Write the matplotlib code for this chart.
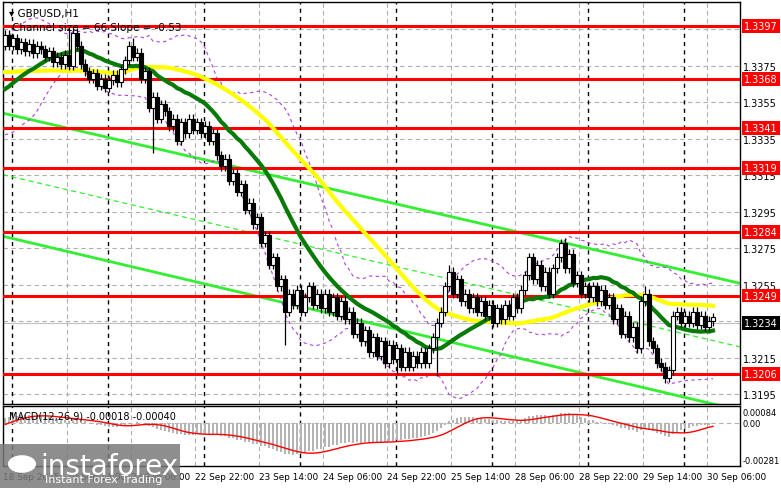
"""GBPUSD H1 chart with channel, moving averages, levels and MACD."""
import matplotlib
matplotlib.use("Agg")
import matplotlib.pyplot as plt
from matplotlib.patches import Rectangle
import numpy as np
import pandas as pd

BASE = 1.3200
PIP = 0.0001

# closes before the visible window (pips above 1.3200), only to warm up the indicators
history = [185, 183, 182, 180, 178, 180, 182, 184, 183, 181, 179, 177, 178, 180, 182,
           183, 184, 182, 180, 178, 176, 175, 174, 176, 178, 177, 175, 173, 170,
           160, 155, 150, 148, 150, 152, 155, 158, 156, 154, 152, 155, 158, 160, 163,
           166, 170, 172, 175, 180, 186]

# visible hourly closes (pips above 1.3200)
closes = [192, 186, 190, 184, 188, 183, 187, 182, 186, 184,
          180, 183, 177, 180, 176, 181, 175, 193, 186, 176,
          172, 168, 171, 164, 168, 163, 167, 170, 166, 173,
          178, 186, 180, 182, 168, 172, 152, 158, 146, 154,
          150, 142, 146, 134, 144, 138, 146, 140, 144, 138,
          142, 134, 138, 126, 120, 124, 112, 116, 106, 110,
          96, 100, 88, 92, 78, 82, 66, 70, 54, 58,
          40, 50, 44, 52, 40, 48, 54, 44, 50, 42,
          50, 40, 48, 38, 46, 36, 40, 28, 34, 24,
          30, 18, 26, 16, 24, 12, 22, 14, 20, 10,
          18, 10, 16, 12, 18, 12, 20, 26, 34, 40,
          54, 62, 50, 58, 46, 50, 42, 48, 40, 46,
          38, 44, 34, 42, 36, 44, 38, 48, 42, 52,
          60, 70, 58, 66, 54, 62, 50, 64, 70, 78,
          64, 72, 56, 60, 50, 54, 48, 54, 46, 52,
          44, 48, 36, 42, 28, 38, 26, 32, 20, 46,
          50, 24, 20, 12, 10, 4, 8, 38, 40, 34,
          38, 34, 40, 33, 38, 32, 35, 37]
# notable wick extremes (bar index -> pips)
spike_highs = {16: 196, 32: 190, 111: 66, 139: 80, 160: 54}
spike_lows = {37: 127, 70: 22, 108: 5, 165: 1, 98: 6}

levels = [1.3397, 1.3368, 1.3341, 1.3319, 1.3284, 1.3249, 1.3206]
price_ticks = [1.3195, 1.3215, 1.3255, 1.3275, 1.3295, 1.3315, 1.3335, 1.3355, 1.3375]
current_price = 1.3234
time_labels = ["18 Sep 2025", "19 Sep 14:00", "22 Sep 06:00", "22 Sep 22:00", "23 Sep 14:00",
               "24 Sep 06:00", "24 Sep 22:00", "25 Sep 14:00", "28 Sep 06:00", "28 Sep 22:00",
               "29 Sep 14:00", "30 Sep 06:00"]
# channel lines: (bar, price) endpoints
chan_upper = [(-0.5, 1.33490), (183.75, 1.32557)]
chan_lower = [(-0.5, 1.32815), (183.75, 1.31860)]

# ---- build series
full = pd.Series(BASE + PIP * np.array(history + closes, dtype=float))
n_hist = len(history)
c = full.values[n_hist:]
o = full.values[n_hist - 1:-1]
hi = np.maximum(o, c) + 2.5 * PIP
lo = np.minimum(o, c) - 2.5 * PIP
for k, v in spike_highs.items():
    hi[k] = BASE + v * PIP
for k, v in spike_lows.items():
    lo[k] = BASE + v * PIP
x = np.arange(len(c))

ma_fast = full.rolling(21).mean().values[n_hist:]
ma_slow = full.rolling(50).mean().values[n_hist:]
bb_mid = full.rolling(20).mean()
bb_std = full.rolling(20).std()
bb_up = (bb_mid + 2 * bb_std).values[n_hist:]
bb_dn = (bb_mid - 2 * bb_std).values[n_hist:]
macd = full.ewm(span=12, adjust=False).mean() - full.ewm(span=26, adjust=False).mean()
signal = macd.rolling(9).mean()
macd = macd.values[n_hist:]
signal = signal.values[n_hist:]

# ---- figure
W, H = 781, 489
fig = plt.figure(figsize=(W / 100, H / 100), dpi=100)
plt.rcParams['font.family'] = ['DejaVu Sans']
ax = fig.add_axes([3 / W, 1 - 405 / H, 737 / W, 402 / H])
axm = fig.add_axes([3 / W, 1 - 467 / H, 737 / W, 60 / H])
xlim = (-0.5, 183.75)

for a in (ax, axm):
    a.set_xlim(*xlim)
    for s in a.spines.values():
        s.set_color('black')
        s.set_linewidth(1)
    a.tick_params(axis='both', length=0, labelsize=7, pad=2)
    a.yaxis.tick_right()

ax.set_ylim(1.31895, 1.3410)
tick_pos = [-0.5 + 16 * i for i in range(len(time_labels))]
for t in tick_pos:
    ax.axvline(t, color='#b0b0b0', ls=(0, (4, 3)), lw=0.8, zorder=0)
    axm.axvline(t, color='#b0b0b0', ls=(0, (4, 3)), lw=0.8, zorder=0)
for p in price_ticks + [1.3235, 1.3395]:
    ax.axhline(p, color='#b0b0b0', ls=(0, (4, 3)), lw=0.8, zorder=0)
for d in [1.75 + 24 * k for k in range(8)]:
    ax.axvline(d, color='black', ls=(0, (3, 3)), lw=1, zorder=0)
    axm.axvline(d, color='black', ls=(0, (3, 3)), lw=1, zorder=0)

# channel
ax.plot(*zip(*chan_upper), color='#33ee33', lw=2, zorder=2)
ax.plot(*zip(*chan_lower), color='#33ee33', lw=2, zorder=2)
mid = [(chan_upper[0][0], (chan_upper[0][1] + chan_lower[0][1]) / 2),
       (chan_upper[1][0], (chan_upper[1][1] + chan_lower[1][1]) / 2)]
ax.plot(*zip(*mid), color='#33ee33', lw=0.9, ls=(0, (4, 3)), zorder=2)

# levels
for lv in levels:
    ax.axhline(lv, color='#ff0000', lw=2.2, zorder=3)

# bollinger and MAs
ax.plot(x, bb_up, color='#b040e0', lw=0.8, ls=(0, (3, 3)), zorder=2)
ax.plot(x, bb_dn, color='#b040e0', lw=0.8, ls=(0, (3, 3)), zorder=2)
ax.plot(x, ma_slow, color='#ffff00', lw=3, zorder=4)
ax.plot(x, ma_fast, color='#087a08', lw=3, zorder=4)

# candles
for i in range(len(c)):
    ax.vlines(x[i], lo[i], hi[i], color='black', lw=0.9, zorder=5)
    bottom = min(o[i], c[i])
    h = max(abs(c[i] - o[i]), 0.6 * PIP)
    fc = 'white' if c[i] >= o[i] else 'black'
    ax.add_patch(Rectangle((x[i] - 0.45, bottom), 0.9, h, facecolor=fc,
                           edgecolor='black', lw=0.8, zorder=6))

ax.set_xticks([])
ax.set_yticks(price_ticks)
ax.set_yticklabels([f"{p:.4f}" for p in price_ticks])

for lv in levels:
    ax.annotate(f"{lv:.4f}", xy=(1.0, lv), xycoords=('axes fraction', 'data'),
                xytext=(3, 0), textcoords='offset points', va='center', ha='left',
                fontsize=7, color='white',
                bbox=dict(boxstyle='square,pad=0.2', fc='#ff0000', ec='none'))
ax.annotate(f"{current_price:.4f}", xy=(1.0, current_price), xycoords=('axes fraction', 'data'),
            xytext=(3, 0), textcoords='offset points', va='center', ha='left',
            fontsize=7, color='white',
            bbox=dict(boxstyle='square,pad=0.2', fc='black', ec='none'))
ax.axhline(current_price, color='#c0c0c0', lw=0.8, zorder=1)

ax.text(0.008, 0.985, "\u25BE GBPUSD,H1", transform=ax.transAxes, fontsize=7.5, va='top')
ax.text(0.012, 0.95, "Channel size = 66 Slope = -0.53", transform=ax.transAxes,
        fontsize=7.5, va='top')

# MACD
axm.bar(x, macd, width=0.6, color='#b4b4b4', zorder=2)
axm.plot(x, signal, color='#ff0000', lw=1, zorder=3)
axm.set_ylim(-0.0033, 0.0013)
axm.set_yticks([0.00084, 0.0, -0.00281])
axm.set_yticklabels(["0.00084", "0.00", "-0.00281"], fontsize=6)
axm.axhline(0, color='#b0b0b0', ls=(0, (4, 3)), lw=0.8, zorder=0)
axm.text(0.008, 0.92, "MACD(12,26,9) -0.00018 -0.00040", transform=axm.transAxes,
         fontsize=7, va='top')
axm.set_xticks(tick_pos)
axm.set_xticklabels(time_labels, ha='left', fontsize=6.4)
axm.tick_params(axis='x', pad=4)

# watermark
fig.patches.append(Rectangle((0, 0), 180 / W, 44 / H, transform=fig.transFigure,
                             facecolor='#7a7a7a', alpha=0.85, zorder=10))
fig.text(40 / W, 22 / H, "instaforex", color='white', fontsize=20, zorder=11, va='center')
fig.text(45 / W, 6 / H, "Instant Forex Trading", color='white', fontsize=8, zorder=11)
fig.patches.append(plt.Circle((22 / W, 24 / H), 0.018, transform=fig.transFigure,
                              facecolor='white', zorder=11))

fig.savefig("out.png", dpi=100)
